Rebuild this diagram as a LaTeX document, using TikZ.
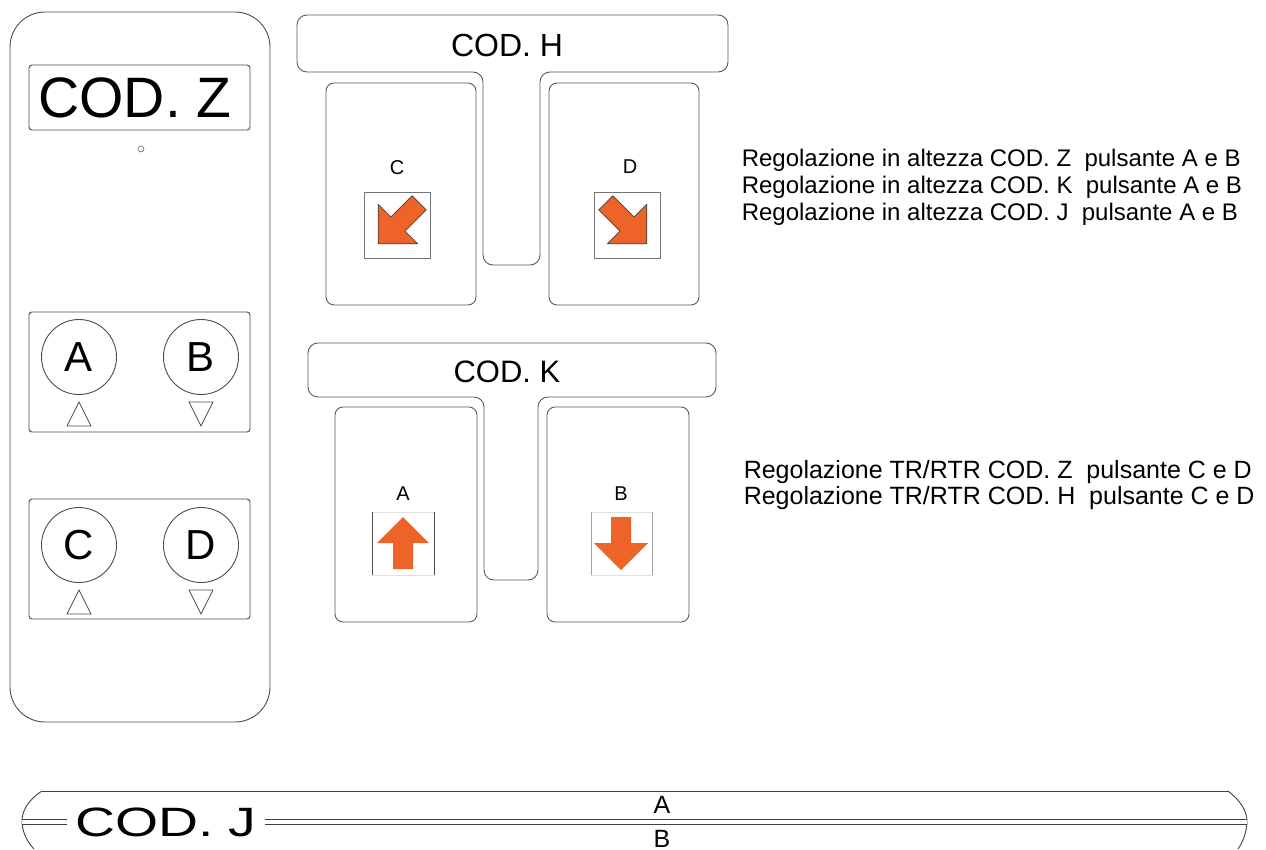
\documentclass[tikz,border=0pt]{standalone}
\usepackage{fontspec}
\setmainfont{Liberation Sans}
\usetikzlibrary{calc}
\definecolor{arroworange}{RGB}{238,100,40}
\frenchspacing

\begin{document}
\begin{tikzpicture}[x=1pt, y=-1pt, line width=0.9pt,
        body_style/.style={draw=black!70, rounded corners=35},
        box_style/.style={draw=black!70, rounded corners=3},
        panel_style/.style={draw=black!65, rounded corners=8},
        btn_style/.style={circle, draw=black!70, minimum size=75pt, inner sep=0pt, font=\fontsize{42}{42}\selectfont},
        tri_style/.style={draw=black!70, line width=0.8pt},
        key_style/.style={font=\fontsize{20}{20}\selectfont},
        frame_style/.style={draw=black!55, line width=0.8pt},
        arrow_style/.style={fill=arroworange, draw=black!75, line width=0.7pt, line join=round},
        note_style/.style={anchor=base west, font=\fontsize{24}{24}\selectfont},
        bar_style/.style={draw=black!75, line width=0.9pt}]

        \useasboundingbox (0,0) rectangle (1266,849);

        \draw [body_style] (10,12) rectangle (270,722);

        \draw [box_style] (29,65) rectangle (250,130);

        \node [font=\fontsize{57}{57}\selectfont] (codZ) at (135,98) {COD. Z};

        \node [circle, draw=black!60, line width=0.6pt, minimum size=6pt, inner sep=0pt] (led) at (141,149) {};

        \draw [box_style] (29,312) rectangle (250,432);

        \node [btn_style] (btnA) at (79,357) {A};

        \node [btn_style] (btnB) at (201,357) {B};

        \draw [tri_style] ($(btnA.south)+(0,7)$) -- ++(12,24) -- ++(-24,0) -- cycle;

        \draw [tri_style] ($(btnB.south)+(-12,7)$) -- ++(24,0) -- ++(-12,24) -- cycle;

        \draw [box_style] (29,499) rectangle (250,619);

        \node [btn_style] (btnC) at (79,545) {C};

        \node [btn_style] (btnD) at (201,545) {D};

        \draw [tri_style] ($(btnC.south)+(0,7)$) -- ++(12,24) -- ++(-24,0) -- cycle;

        \draw [tri_style] ($(btnD.south)+(-12,7)$) -- ++(24,0) -- ++(-12,24) -- cycle;

        \draw [panel_style, rounded corners=10] (297,15) -- (728,15) -- (728,72) -- (540,72) -- (540,265) -- (483,265) -- (483,72) -- (297,72) -- cycle;

        \node [font=\fontsize{32}{32}\selectfont] (codH) at (507,45) {COD. H};

        \draw [panel_style] (326,83) rectangle (476,305);

        \draw [panel_style] (549,83) rectangle (699,305);

        \node [key_style] (keyC) at (397,168) {C};

        \node [key_style] (keyD) at (630,167) {D};

        \draw [frame_style] (364,192) rectangle (430,258);

        \draw [frame_style] (594,192) rectangle (660,258);

        \begin{scope}[shift={(398,224)}, rotate=-45]
        \draw [arrow_style] (0,28) -- (28,0) -- (10,0) -- (10,-30) -- (-10,-30) -- (-10,0) -- (-28,0) -- cycle;
        \end{scope}

        \begin{scope}[shift={(627,224)}, rotate=45]
        \draw [arrow_style] (0,28) -- (28,0) -- (10,0) -- (10,-30) -- (-10,-30) -- (-10,0) -- (-28,0) -- cycle;
        \end{scope}

        \draw [panel_style, rounded corners=10] (308,343) -- (716,343) -- (716,397) -- (538,397) -- (538,580) -- (484,580) -- (484,397) -- (308,397) -- cycle;

        \node [font=\fontsize{31}{31}\selectfont] (codK) at (507,372) {COD. K};

        \draw [panel_style] (335,407) rectangle (477,622);

        \draw [panel_style] (547,407) rectangle (689,622);

        \node [key_style] (keyA) at (403,494) {A};

        \node [key_style] (keyB) at (621,494) {B};

        \draw [draw=black!12, line width=0.8pt] (372,512) rectangle (434,575);

        \draw [frame_style, draw=black!70] (372,512) -- (372,575) (434,512) -- (434,575);

        \fill [arroworange] (403,517) -- (429,543) -- (413,543) -- (413,569) -- (393,569) -- (393,543) -- (377,543) -- cycle;

        \draw [draw=black!12, line width=0.8pt] (591,512) rectangle (652,575);

        \draw [frame_style, draw=black!35] (591,512) -- (591,575) (652,512) -- (652,575);

        \fill [arroworange] (621,570) -- (648,543) -- (631,543) -- (631,517) -- (611,517) -- (611,543) -- (594,543) -- cycle;

        \node [note_style] (note1) at (738,166) {Regolazione in altezza COD. Z~ pulsante A e B};

        \node [note_style] (note2) at (738,193) {Regolazione in altezza COD. K~ pulsante A e B};

        \node [note_style] (note3) at (738,220) {Regolazione in altezza COD. J~ pulsante A e B};

        \node [note_style, font=\fontsize{25}{25}\selectfont] (note4) at (740,478) {Regolazione TR/RTR COD. Z~ pulsante C e D};

        \node [note_style, font=\fontsize{25}{25}\selectfont] (note5) at (740,504) {Regolazione TR/RTR COD. H~ pulsante C e D};

        \draw [bar_style] (42,791) -- (1228,791);

        \draw [bar_style] (42,791) .. controls (28,800) and (22,811) .. (22,821) .. controls (22,831) and (27,842) .. (34,849);

        \draw [bar_style] (1228,791) .. controls (1240,800) and (1247,811) .. (1247,821) .. controls (1247,831) and (1243,842) .. (1238,849);

        \node [font=\fontsize{41}{41}\selectfont, inner xsep=8pt] (codJ) at (166,822) {\scalebox{1.35}[1]{COD. J}};

        \draw [bar_style, double, double distance=4pt] (22,822) -- (codJ.west);

        \draw [bar_style, double, double distance=4pt] (codJ.east) -- (1247,822);

        \node [font=\fontsize{25}{25}\selectfont] (barA) at (662,805) {A};

        \node [font=\fontsize{25}{25}\selectfont] (barB) at (662,839) {B};

        \end{tikzpicture}
\end{document}
